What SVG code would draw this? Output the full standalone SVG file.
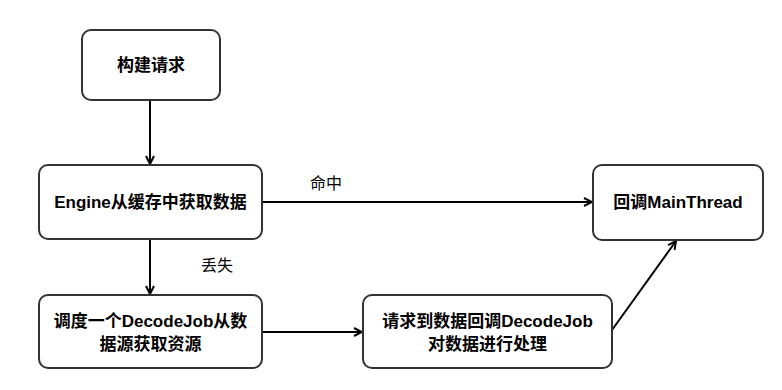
<svg xmlns="http://www.w3.org/2000/svg" width="782" height="390" viewBox="0 0 782 390">
<defs>
<style>
.box{fill:#fff;stroke:#333;stroke-width:2}
.t{font-family:"Liberation Sans","Noto Sans CJK SC",sans-serif;font-size:17px;font-weight:bold;fill:#000;text-anchor:middle;dominant-baseline:central}
.lbl{font-family:"Liberation Sans","Noto Sans CJK SC",sans-serif;font-size:16px;fill:#000;text-anchor:middle;dominant-baseline:central}
.c{fill:none;stroke:#000;stroke-width:2;marker-end:url(#ah)}
</style>
<marker id="ah" viewBox="0 0 10 10" refX="9" refY="5" markerWidth="5" markerHeight="5" orient="auto" markerUnits="strokeWidth">
<path d="M1,1 L9,5 L1,9" fill="none" stroke="#000" stroke-width="2"/>
</marker>
</defs>
<rect width="782" height="390" fill="#fff"/>
<g id="connectors">
<path class="c" d="M150,100 L150,164"/>
<path class="c" d="M150,239 L150,294"/>
<path class="c" d="M262,202 L592,202"/>
<path class="c" d="M262,332 L362,332"/>
<path class="c" d="M612,330 L676,241"/>
<text class="lbl" x="326" y="183">命中</text>
<text class="lbl" x="217" y="265">丢失</text>
</g>
<g id="n1">
<rect class="box" x="82" y="30" width="138" height="70" rx="9"/>
<text class="t" x="151" y="65">构建请求</text>
</g>
<g id="n2">
<rect class="box" x="39" y="165" width="223" height="74" rx="9"/>
<text class="t" x="150.5" y="202">Engine从缓存中获取数据</text>
</g>
<g id="n3">
<rect class="box" x="39" y="295" width="223" height="73" rx="9"/>
<text class="t" x="150.5" y="321">调度一个DecodeJob从数</text>
<text class="t" x="150.5" y="344">据源获取资源</text>
</g>
<g id="n4">
<rect class="box" x="363" y="295" width="249" height="73" rx="9"/>
<text class="t" x="487.5" y="321">请求到数据回调DecodeJob</text>
<text class="t" x="487.5" y="344">对数据进行处理</text>
</g>
<g id="n5">
<rect class="box" x="593" y="165" width="170" height="75" rx="9"/>
<text class="t" x="678" y="202">回调MainThread</text>
</g>
</svg>
